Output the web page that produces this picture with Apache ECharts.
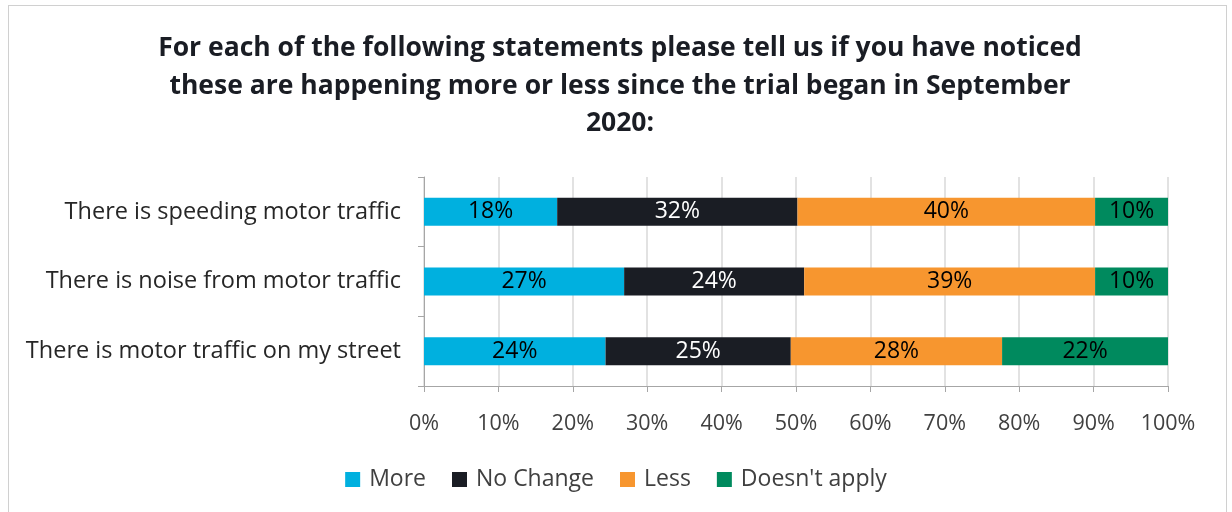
<!DOCTYPE html>
<html>
<head>
<meta charset="utf-8">
<script src="https://cdn.jsdelivr.net/npm/echarts@6/dist/echarts.min.js"></script>
<style>
  html, body { margin: 0; padding: 0; background: #fff; }
  #chart { width: 1232px; height: 512px; }
  .frame { position: absolute; left: 8px; top: 5px; width: 1219px; height: 520px; border: 1px solid #d0d0d0; box-sizing: border-box; pointer-events: none; }
</style>
</head>
<body>
<div id="chart"></div>
<div class="frame"></div>
<script>
  // statements, top to bottom
  const categories = [
    'There is speeding motor traffic',
    'There is noise from motor traffic',
    'There is motor traffic on my street'
  ];
  const seriesNames = ['More', 'No Change', 'Less', "Doesn't apply"];
  const more = [17.9, 26.9, 24.4];
  const noChange = [32.3, 24.2, 24.9];
  const less = [40.0, 39.1, 28.4];
  const notApply = [9.8, 9.8, 22.3];
  const colors = ['#00b0df', '#1a1d24', '#f7962f', '#008a5e'];
  const labelColors = ['#000', '#fff', '#000', '#000'];

  const font = 'Open Sans';
  let dom = document.getElementById('chart');
  let myChart = echarts.init(dom);
  let values = [more, noChange, less, notApply];

  let option = {
    animation: false,
    title: {
      text: 'For each of the following statements please tell us if you have noticed\nthese are happening more or less since the trial began in September\n2020:',
      left: 615,
      top: 25,
      textAlign: 'center',
      textStyle: {
        fontFamily: font,
        fontWeight: 'bold',
        fontSize: 26.5,
        lineHeight: 37.5,
        color: '#1a1d24'
      }
    },
    legend: {
      bottom: 16,
      left: 'center',
      itemWidth: 15,
      itemHeight: 15,
      itemGap: 26,
      icon: 'rect',
      textStyle: { fontFamily: font, fontSize: 23, color: '#404040', padding: [0, 0, 0, 4] },
      data: seriesNames
    },
    grid: { left: 424, right: 64, top: 177, bottom: 126, containLabel: false },
    xAxis: {
      type: 'value',
      min: 0,
      max: 100,
      interval: 10,
      axisLine: { show: true, lineStyle: { color: '#a6a6a6' } },
      axisTick: { show: true, length: 6, lineStyle: { color: '#a6a6a6' } },
      splitLine: { show: true, lineStyle: { color: '#d9d9d9', width: 1.5 } },
      axisLabel: {
        margin: 27,
        fontFamily: font,
        fontSize: 21.5,
        color: '#404040',
        formatter: v => v + '%'
      }
    },
    yAxis: {
      type: 'category',
      inverse: true,
      data: categories,
      axisLine: { show: true, lineStyle: { color: '#a6a6a6' } },
      axisTick: { show: true, length: 6, lineStyle: { color: '#a6a6a6' } },
      axisLabel: {
        margin: 23,
        fontFamily: font,
        fontSize: 23.5,
        color: '#262626'
      }
    },
    series: seriesNames.map((name, i) => ({
      name: name,
      type: 'bar',
      stack: 'total',
      barWidth: 28,
      data: values[i],
      itemStyle: { color: colors[i] },
      label: {
        show: true,
        position: 'inside',
        fontFamily: font,
        fontSize: 23,
        color: labelColors[i],
        formatter: p => Math.round(p.value) + '%'
      }
    }))
  };
  myChart.setOption(option);
  window.addEventListener('resize', () => { myChart.resize() });
</script>
</body>
</html>
